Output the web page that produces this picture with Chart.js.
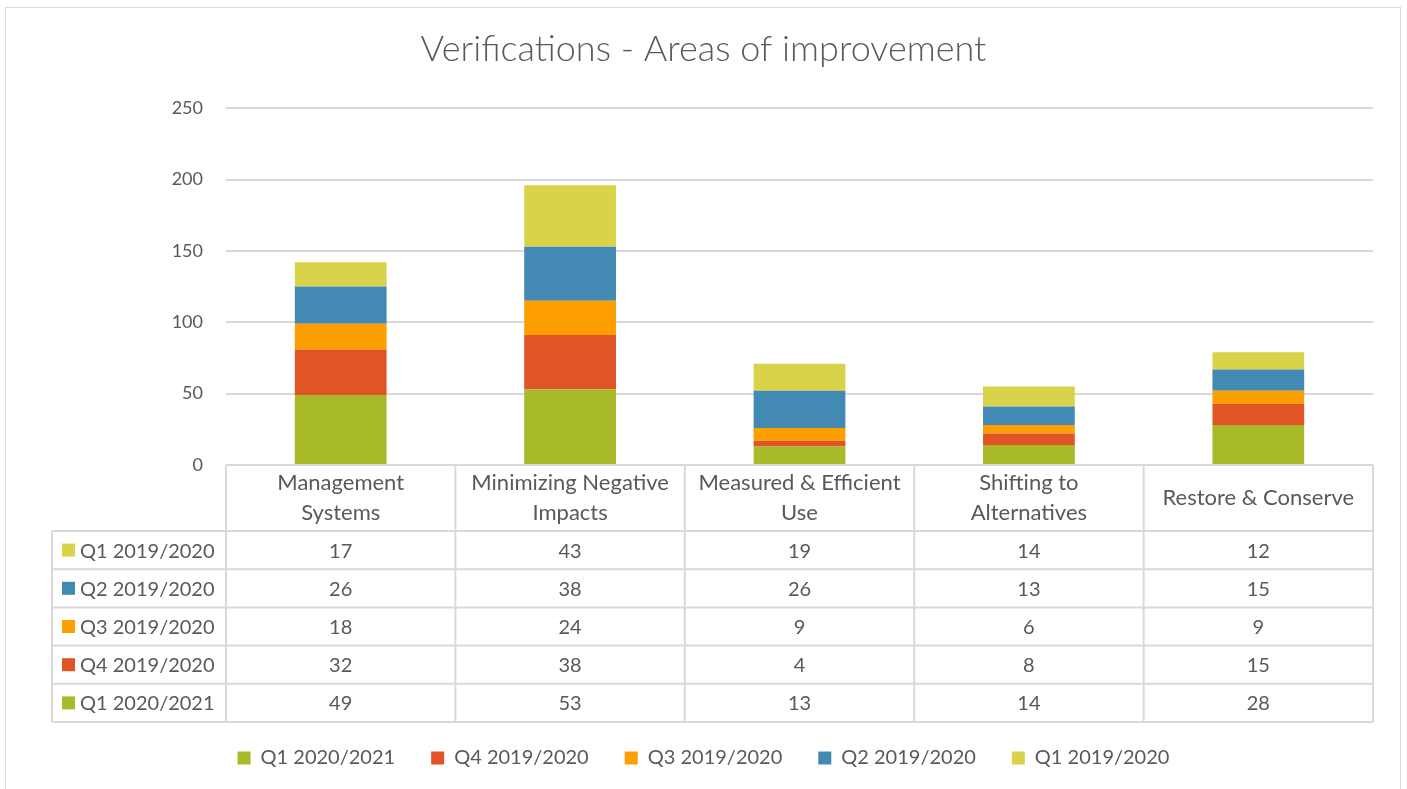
<!DOCTYPE html>
<html>
<head>
<meta charset="utf-8">
<script src="https://cdn.jsdelivr.net/npm/chart.js@4.4.0/dist/chart.umd.min.js"></script>
<style>
    body { margin: 0; background: #fff; }
    #wrap { position: relative; width: 1407px; height: 789px; }
</style>
</head>
<body>
<div id="wrap"><canvas id="chart" width="1407" height="789"></canvas></div>
<script>
const categories = [
    ['Management', 'Systems'],
    ['Minimizing Negative', 'Impacts'],
    ['Measured & Efficient', 'Use'],
    ['Shifting to', 'Alternatives'],
    ['Restore & Conserve']
]
const seriesNames = ['Q1 2020/2021', 'Q4 2019/2020', 'Q3 2019/2020', 'Q2 2019/2020', 'Q1 2019/2020']
const q1_2021 = [49, 53, 13, 14, 28]
const q4_2020 = [32, 38, 4, 8, 15]
const q3_2020 = [18, 24, 9, 6, 9]
const q2_2020 = [26, 38, 26, 13, 15]
const q1_2020 = [17, 43, 19, 14, 12]
const yTicks = [0, 50, 100, 150, 200, 250]

const colors = ['#a8b92a', '#e15426', '#fe9f00', '#428ab4', '#d9d349']
const seriesData = [q1_2021, q4_2020, q3_2020, q2_2020, q1_2020]
const textColor = '#595959'
const lineColor = '#d9d9d9'
const font = 'Lato, "Open Sans", sans-serif'

// таблица данных под графиком (как в Excel)
const dataTable = {
    id: 'dataTable',
    beforeDraw(chart) {
        const c = chart.ctx
        c.save()
        c.strokeStyle = lineColor
        c.lineWidth = 1
        c.strokeRect(5.5, 7.5, 1395, 800)
        c.restore()
    },
    afterDraw(chart) {
        const c = chart.ctx
        const area = chart.chartArea
        const x = chart.scales.x
        const n = categories.length
        const colW = (area.right - area.left) / n
        const headerH = 66
        const rowH = 38.2
        const top = area.bottom
        const rowsTop = top + headerH
        const bottom = rowsTop + rowH * seriesNames.length
        const labelLeft = 52

        c.save()
        c.strokeStyle = lineColor
        c.lineWidth = 2
        c.beginPath()
        // верхняя линия заголовка
        c.moveTo(area.left, top); c.lineTo(area.right, top)
        for (let i = 0; i <= n; i++) {
            const lx = area.left + colW * i
            c.moveTo(lx, top); c.lineTo(lx, bottom)
        }
        c.moveTo(labelLeft, rowsTop); c.lineTo(labelLeft, bottom)
        for (let r = 0; r <= seriesNames.length; r++) {
            const ly = rowsTop + rowH * r
            c.moveTo(labelLeft, ly); c.lineTo(area.right, ly)
        }
        c.stroke()

        c.fillStyle = textColor
        c.textAlign = 'center'
        c.textBaseline = 'middle'
        c.font = '22px ' + font
        categories.forEach((lines, i) => {
            const cx = x.getPixelForValue(i)
            const mid = top + headerH / 2
            lines.forEach((t, k) => {
                c.fillText(t, cx, mid + (k - (lines.length - 1) / 2) * 30)
            })
        })

        // строки: сверху Q1 2019/2020, снизу Q1 2020/2021
        c.font = '20px ' + font
        for (let r = 0; r < seriesNames.length; r++) {
            const s = seriesNames.length - 1 - r
            const cy = rowsTop + rowH * r + rowH / 2
            c.fillStyle = colors[s]
            c.fillRect(62, cy - 6.5, 13, 13)
            c.fillStyle = textColor
            c.textAlign = 'left'
            c.fillText(seriesNames[s], 80, cy + 1)
            c.textAlign = 'center'
            seriesData[s].forEach((v, i) => {
                c.fillText(String(v), x.getPixelForValue(i), cy + 1)
            })
        }
        c.restore()
    }
}

new Chart(document.getElementById('chart'), {
    type: 'bar',
    data: {
        labels: categories.map(l => l.join(' ')),
        datasets: seriesNames.map((name, i) => ({
            label: name,
            data: seriesData[i],
            backgroundColor: colors[i],
            borderWidth: 0,
            categoryPercentage: 1,
            barPercentage: 0.4
        }))
    },
    options: {
        responsive: false,
        animation: false,
        layout: { padding: { top: 10, left: 34, right: 34, bottom: 11 } },
        plugins: {
            title: {
                display: true,
                text: 'Verifications - Areas of improvement',
                color: textColor,
                font: { family: font, size: 36, weight: '300' },
                padding: { top: 18, bottom: 37 }
            },
            legend: {
                position: 'bottom',
                labels: {
                    color: textColor,
                    font: { family: font, size: 20 },
                    boxWidth: 13,
                    boxHeight: 13,
                    padding: 36
                }
            },
            tooltip: { enabled: false }
        },
        scales: {
            x: {
                stacked: true,
                grid: { display: false },
                border: { display: false },
                ticks: { display: false },
                afterFit(scale) { scale.height = 247 }
            },
            y: {
                stacked: true,
                min: 0,
                max: 250,
                afterBuildTicks(scale) { scale.ticks = yTicks.map(v => ({ value: v })) },
                grid: { color: lineColor, lineWidth: 2, drawTicks: false },
                border: { display: false },
                ticks: {
                    color: textColor,
                    font: { family: font, size: 18 },
                    padding: 23
                },
                afterFit(scale) { scale.width = 192 }
            }
        }
    },
    plugins: [dataTable]
})
</script>
</body>
</html>
